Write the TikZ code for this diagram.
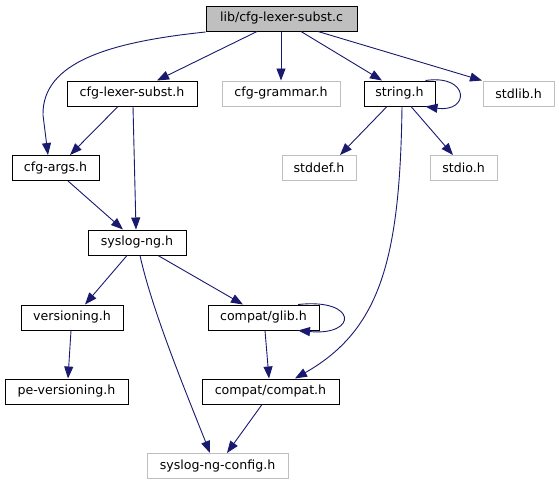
\documentclass[tikz,border=0pt]{standalone}
\usepackage{fontspec}
\setmainfont{DejaVu Sans}
\usetikzlibrary{arrows.meta}
\definecolor{edgeblue}{HTML}{191970}
\definecolor{extgrey}{HTML}{BFBFBF}
\begin{document}
\begin{tikzpicture}[x=1pt,y=-1pt,
  box/.style={draw=black,line width=1pt,rectangle,inner sep=0pt,minimum height=25pt,font=\fontsize{12.6}{14}\selectfont,text=black},
  extbox/.style={box,draw=extgrey},
  topbox/.style={box,fill=extgrey},
  dep/.style={draw=edgeblue,line width=0.9pt,-{Triangle[length=12pt,width=9pt]},fill=none},
  every path/.style={}]
\useasboundingbox[fill=white] (0,0) rectangle (559,485);
\node[topbox,minimum width=151pt] (top) at (281.5,18.5) {lib/cfg-lexer-subst.c};
\node[box,minimum width=130pt] (clsh) at (132,93.5) {cfg-lexer-subst.h};
\node[extbox,minimum width=118pt] (grammar) at (281,93.5) {cfg-grammar.h};
\node[box,minimum width=71pt] (string) at (399.5,93.5) {string.h};
\node[extbox,minimum width=71pt] (stdlib) at (518.5,93.5) {stdlib.h};
\node[box,minimum width=87pt] (args) at (55.5,168) {cfg-args.h};
\node[extbox,minimum width=74pt] (stddef) at (319,168) {stddef.h};
\node[extbox,minimum width=67pt] (stdio) at (463.5,168) {stdio.h};
\node[box,minimum width=98pt] (syslog) at (137,242.5) {syslog-ng.h};
\node[box,minimum width=102pt] (versioning) at (72,317.5) {versioning.h};
\node[box,minimum width=111pt] (glib) at (263.5,317.5) {compat/glib.h};
\node[box,minimum width=123pt] (pe) at (66.5,391.5) {pe-versioning.h};
\node[box,minimum width=137pt] (compat) at (270.5,391.5) {compat/compat.h};
\node[extbox,minimum width=141pt] (config) at (217.5,466) {syslog-ng-config.h};

\draw[dep] ([xshift=-24.5pt]top.south) -- ([xshift=25pt]clsh.north);
\draw[dep] ([yshift=-0.5pt]top.south west) .. controls (110,42) and (42,62) .. (43,115) -- ([xshift=-7.5pt]args.north);
\draw[dep] (grammar.north |- top.south) -- (grammar.north);
\draw[dep] ([xshift=19.5pt]top.south) -- ([xshift=-17.5pt]string.north);
\draw[dep] ([xshift=36.5pt]top.south) -- ([xshift=-36.5pt]stdlib.north);
\draw[dep] ([xshift=26pt]string.north) .. controls (470,74) and (470,113) .. ([xshift=26pt]string.south);
\draw[dep] ([xshift=-12.5pt]string.south) -- ([xshift=21pt]stddef.north);
\draw[dep] ([xshift=11.5pt]string.south) -- ([xshift=-10.5pt]stdio.north);
\draw[dep] ([xshift=2.5pt]string.south) .. controls (400,260) and (380,330) .. ([xshift=24.5pt]compat.north);
\draw[dep] ([xshift=-14pt]clsh.south) -- ([xshift=14.5pt]args.north);
\draw[dep] ([xshift=1pt]clsh.south) -- ([xshift=-1pt]syslog.north);
\draw[dep] ([xshift=12.5pt]args.south) -- ([xshift=-14pt]syslog.north);
\draw[dep] ([xshift=-10pt]syslog.south) -- ([xshift=13pt]versioning.north);
\draw[dep] ([xshift=21pt]syslog.south) -- ([xshift=-20.5pt]glib.north);
\draw[dep] ([xshift=3pt]syslog.south) .. controls (152,310) and (185,390) .. ([xshift=-7.5pt]config.north);
\draw[dep] ([xshift=-1pt]versioning.south) -- ([xshift=1.5pt]pe.north);
\draw[dep] ([xshift=34.5pt]glib.north) .. controls (358,298) and (358,336) .. ([xshift=34.5pt]glib.south);
\draw[dep] ([xshift=1.5pt]glib.south) -- ([xshift=-1.5pt]compat.north);
\draw[dep] ([xshift=-8.5pt]compat.south) -- ([xshift=9.5pt]config.north);
\end{tikzpicture}
\end{document}
